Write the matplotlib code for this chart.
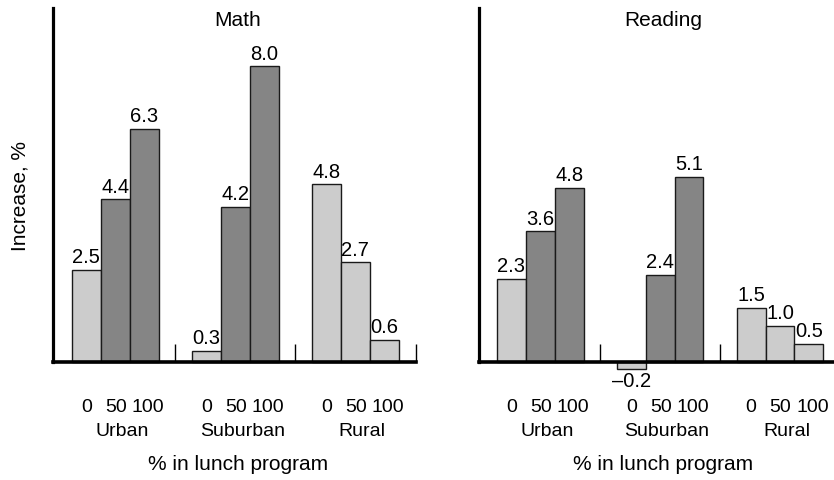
import numpy as np
import matplotlib
matplotlib.use('Agg')
import matplotlib.pyplot as plt
from matplotlib.transforms import blended_transform_factory

plt.rcParams['font.family'] = ['Liberation Sans', 'DejaVu Sans']

# data
groups = ['Urban', 'Suburban', 'Rural']
lunch = ['0', '50', '100']
math_vals = [[2.5, 4.4, 6.3], [0.3, 4.2, 8.0], [4.8, 2.7, 0.6]]
read_vals = [[2.3, 3.6, 4.8], [-0.2, 2.4, 5.1], [1.5, 1.0, 0.5]]
# which bars are drawn dark grey
dark = [[False, True, True], [False, True, True], [False, False, False]]

light_c = '#cccccc'
dark_c = '#858585'
edge_c = '#1a1a1a'
gap = 4.15

W, H = 834, 481
fig = plt.figure(figsize=(W / 100, H / 100), dpi=100)


def panel(left_px, right_px, xlo, xhi, ymax, vals, title, end_tick):
    top_px, base_px = 9, 363
    ax = fig.add_axes([left_px / W, 1 - base_px / H, (right_px - left_px) / W, (base_px - top_px) / H])
    ax.set_xlim(xlo, xhi)
    ax.set_ylim(0, ymax)
    for s in ['top', 'right']:
        ax.spines[s].set_visible(False)
    ax.spines['left'].set_linewidth(2.3)
    ax.spines['bottom'].set_linewidth(2.6)
    ax.spines['bottom'].set_zorder(5)
    ax.set_xticks([])
    ax.set_yticks([])

    tr = blended_transform_factory(ax.transData, fig.transFigure)
    for g, name in enumerate(groups):
        for k in range(3):
            x = g * gap + k
            v = vals[g][k]
            col = dark_c if dark[g][k] else light_c
            ax.bar(x, v, width=1.0, color=col, edgecolor=edge_c, linewidth=1.0, clip_on=False, zorder=3)
            if v >= 0:
                ax.annotate(f'{v:.1f}', (x, v), xytext=(0, 2.5), textcoords='offset points',
                            ha='center', va='bottom', fontsize=14.5, annotation_clip=False)
            else:
                ax.annotate(f'\u2013{abs(v):.1f}', (x, v), xytext=(0, -1), textcoords='offset points',
                            ha='center', va='top', fontsize=14.5, annotation_clip=False)
            off = [0, 0.02, 0.14][k]
            ax.text(x + off, 1 - 408 / H, lunch[k], transform=tr, ha='center', va='center', fontsize=14)
        ax.text(g * gap + 1.24, 1 - 432 / H, name, transform=tr, ha='center', va='center', fontsize=14)
    # small separators between groups
    seps = [2.5 + (gap - 3) / 2, gap + 2.5 + (gap - 3) / 2]
    if end_tick:
        seps.append(xhi)
    ax.vlines(seps, 0, 0.5, color='black', linewidth=1.0, clip_on=False)

    ax.text(gap + 1.1, 1 - 20 / H, title, transform=tr, ha='center', va='center', fontsize=15)
    ax.text(gap + 1.1, 1 - 465 / H, '% in lunch program', transform=tr, ha='center', va='center', fontsize=15)
    return ax


panel(53, 416, -1.15, 11.4, 354 / 37.0, math_vals, 'Math', True)
panel(479, 834, -1.12, 11.17, 354 / 36.3, read_vals, 'Reading', False)

fig.text(20 / W, 1 - 196 / H, 'Increase, %', rotation=90, ha='center', va='center', fontsize=15)

fig.savefig('out.png', dpi=100)
